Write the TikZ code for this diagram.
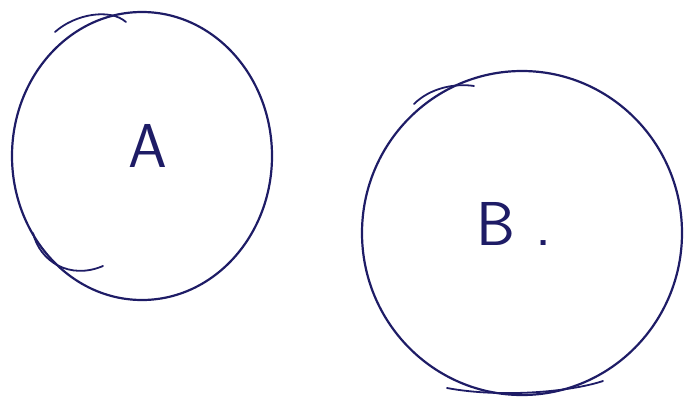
\documentclass[tikz,border=0pt]{standalone}
\usetikzlibrary{shapes.geometric}
\begin{document}
\begin{tikzpicture}[x=1pt,y=-1pt,
  ink/.style={draw=inkblue,line width=2.2pt,line cap=round},
  circ/.style={ink,ellipse,inner sep=0pt,outer sep=0pt},
  lbl/.style={text=inkblue,font=\sffamily\fontsize{62}{62}\selectfont,inner sep=0pt}]
\definecolor{inkblue}{HTML}{1E1C66}
\useasboundingbox (0,0) rectangle (688,407);
% circle A
\node[circ,minimum width=260pt,minimum height=288pt] (ca) at (142,156) {};
\draw[ink,line width=1.8pt] (55,32) .. controls (75,14) and (110,8) .. (126,22);
\draw[ink,line width=1.8pt] (33,233) .. controls (40,262) and (70,280) .. (103,266);
\node[lbl] (a) at (148,146) {A};
% circle B
\node[circ,minimum width=320pt,minimum height=324pt] (cb) at (522,233) {};
\draw[ink,line width=1.8pt] (414,104) .. controls (430,88) and (455,83) .. (474,86);
\draw[ink,line width=1.8pt] (447,388) .. controls (500,398) and (570,392) .. (603,381);
\node[lbl] (b) at (514,224) {B\hspace{20pt}.};
\end{tikzpicture}
\end{document}
